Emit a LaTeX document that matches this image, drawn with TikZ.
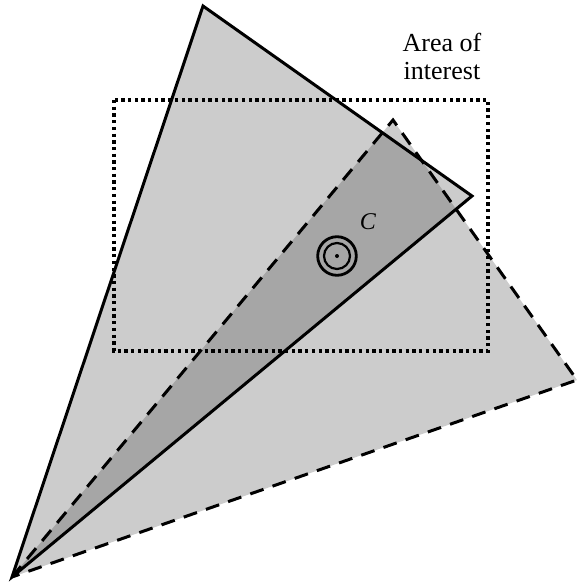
\documentclass[tikz,border=0pt]{standalone}
\usepackage{fontspec}
\setmainfont{Liberation Serif}
\begin{document}
\begin{tikzpicture}[x=1pt,y=-1pt,
  lightfill/.style={fill=black!20},
  darkfill/.style={fill=black!35},
  solidedge/.style={draw=black,line width=3pt},
  dashededge/.style={draw=black,line width=3pt,dash pattern=on 14pt off 9.5pt},
  dottedbox/.style={draw=black,line width=3.2pt,dash pattern=on 3.3pt off 3.4pt},
  ring/.style={circle,draw=black,inner sep=0pt},
]
\useasboundingbox (0,0) rectangle (578,582);
\coordinate (O) at (12,577);
\coordinate (S1) at (203,6);
\coordinate (S2) at (472,196);
\coordinate (D1) at (393,120);
\coordinate (D2) at (577,380);
\coordinate (R1) at (114,100);
\coordinate (R2) at (488,351);
\fill[lightfill] (O)--(S1)--(S2)--cycle;
\fill[lightfill] (O)--(D1)--(D2)--cycle;
\begin{scope}
  \clip (O)--(S1)--(S2)--cycle;
  \fill[darkfill] (O)--(D1)--(D2)--cycle;
\end{scope}
\draw[dottedbox] (R1) rectangle (R2);
\draw[solidedge] (O)--(S1)--(S2)--cycle;
\draw[dashededge] (O)--(D1)--(D2)--cycle;
\node[ring,line width=2.8pt,minimum size=38.6pt] (outer) at (337,256) {};
\node[ring,line width=2.2pt,minimum size=26pt] (inner) at (outer.center) {};
\node[circle,fill=black,inner sep=0pt,minimum size=4pt] (dot) at (outer.center) {};
\node[font=\fontsize{24}{24}\selectfont\itshape,inner sep=0pt] (C) at (368,222) {C};
\node[font=\fontsize{26}{28}\selectfont,align=center,inner sep=0pt] (aoi) at (442,56) {Area of\\interest};
\end{tikzpicture}
\end{document}
